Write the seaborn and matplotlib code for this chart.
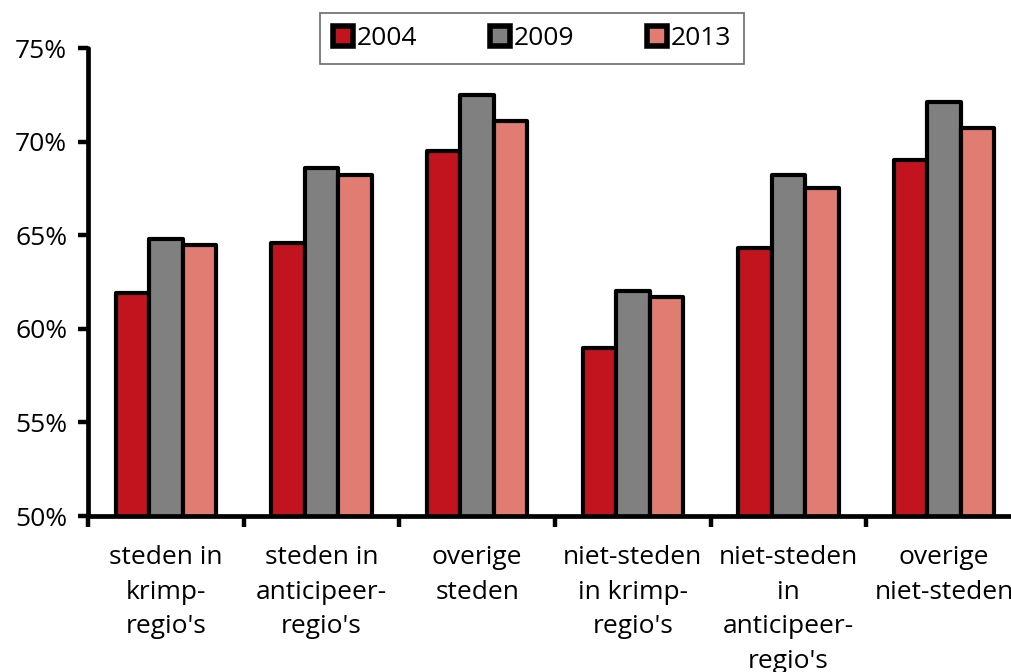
import pandas as pd
import numpy as np
import matplotlib
matplotlib.use("Agg")
import matplotlib.pyplot as plt
import seaborn as sns
from matplotlib.ticker import FuncFormatter, FixedLocator

categories = ["steden in\nkrimp-\nregio's",
              "steden in\nanticipeer-\nregio's",
              "overige\nsteden",
              "niet-steden\nin krimp-\nregio's",
              "niet-steden\nin\nanticipeer-\nregio's",
              "overige\nniet-steden"]
years = ["2004", "2009", "2013"]
vals_2004 = [61.9, 64.6, 69.5, 59.0, 64.3, 69.0]
vals_2009 = [64.8, 68.6, 72.5, 62.0, 68.2, 72.1]
vals_2013 = [64.5, 68.2, 71.1, 61.7, 67.5, 70.7]
colors = ["#C1141F", "#808080", "#E07C71"]

df = pd.DataFrame({
    "cat": categories * 3,
    "year": [y for y in years for _ in categories],
    "val": vals_2004 + vals_2009 + vals_2013,
})

sns.set_style("white")
plt.rcParams['font.family'] = ['Open Sans', 'DejaVu Sans']
plt.rcParams['text.color'] = 'black'
plt.rcParams['xtick.color'] = 'black'
plt.rcParams['ytick.color'] = 'black'

fig = plt.figure(figsize=(10.12, 6.72), dpi=100)
ax = fig.add_axes([88 / 1012, 156 / 672, 934 / 1012, 468 / 672])

sns.barplot(data=df, x="cat", y="val", hue="year", palette=colors,
            saturation=1, width=0.645, gap=0, edgecolor="black",
            linewidth=3, ax=ax, legend=True)
for p in ax.patches:
    p.set_joinstyle("round")

ax.set_ylim(50, 75)
ax.set_xlim(-0.5, len(categories) - 0.5)
ax.set_yticks([50, 55, 60, 65, 70, 75])
ax.yaxis.set_major_formatter(FuncFormatter(lambda v, _: f"{v:.0f}%"))
ax.tick_params(axis="y", direction="out", length=7, width=3.2, pad=8,
               labelsize=19, left=True, labelcolor="black")

# group boundaries as tick marks, labels at centers
ax.xaxis.set_major_locator(FixedLocator(np.arange(-0.5, len(categories), 1.0)))
ax.xaxis.set_minor_locator(FixedLocator(np.arange(len(categories))))
ax.set_xticklabels([""] * len(ax.get_xticks()))
ax.set_xticklabels(categories, minor=True, linespacing=1.5)
ax.tick_params(axis="x", which="major", direction="out", length=8, width=3.2,
               bottom=True)
ax.tick_params(axis="x", which="minor", length=0, pad=21, labelsize=19,
               labelcolor="black")

ax.set_xlabel("")
ax.set_ylabel("")
sns.despine(ax=ax)
for s in ["left", "bottom"]:
    ax.spines[s].set_linewidth(3.4)
    ax.spines[s].set_color("black")
    ax.spines[s].set_capstyle("round")

leg = ax.legend(loc="upper left", bbox_to_anchor=(320 / 1012, 659 / 672),
                bbox_transform=fig.transFigure, ncol=3, frameon=True,
                fancybox=False, fontsize=19, handlelength=0.75,
                handleheight=0.75, handletextpad=0.15, columnspacing=2.75,
                borderpad=0.5, borderaxespad=0)
leg.get_frame().set_edgecolor("#444444")
leg.get_frame().set_linewidth(1.2)
for h in leg.legend_handles:
    h.set_edgecolor("black")
    h.set_linewidth(4)

fig.savefig("out.png", dpi=100)
